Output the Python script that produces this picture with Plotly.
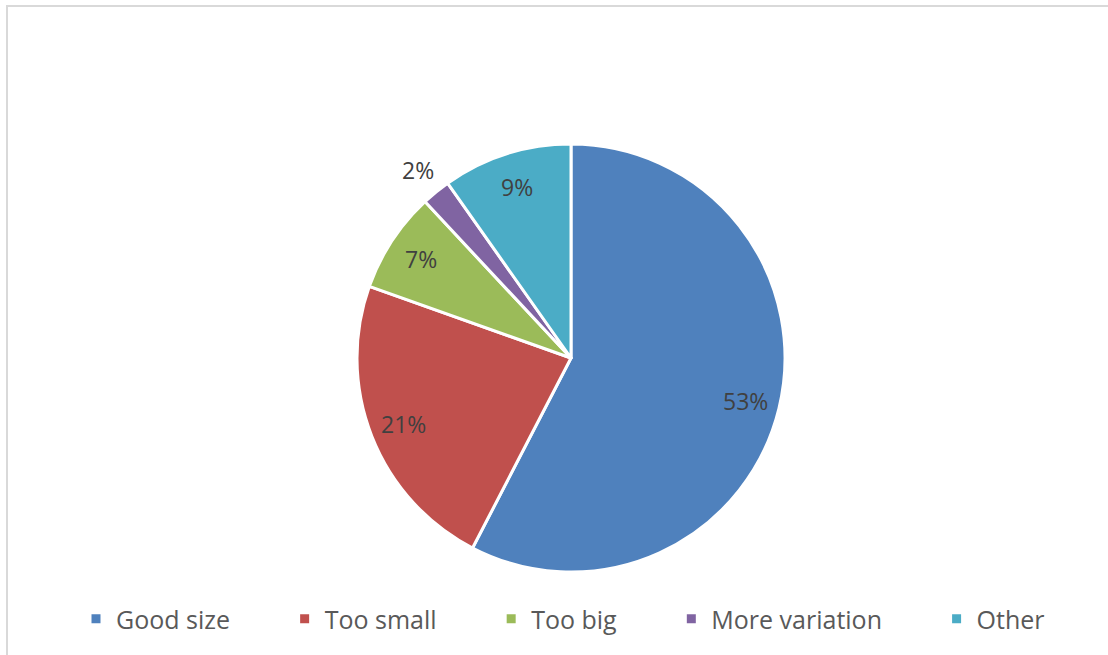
import math
import plotly.graph_objects as go

# ---- data ----
labels = ["Good size", "Too small", "Too big", "More variation", "Other"]
values = [53, 21, 7, 2, 9]
label_pos = ["inside", "inside", "inside", "outside", "inside"]
colors = ["#4F81BD", "#C0504D", "#9BBB59", "#8064A2", "#4BACC6"]

W, H = 1108, 655
FONT = "Open Sans"

# pie geometry (pixels)
cx_px, cy_px, R_px = 571, 358, 214
dom_x = [(cx_px - R_px) / W, (cx_px + R_px) / W]
dom_y = [1 - (cy_px + R_px) / H, 1 - (cy_px - R_px) / H]

# spacing between legend entries (not after the last one)
pad = "\u00a0" * 7 + "\u2009"
legend_names = [l + (pad if i < len(labels) - 1 else "") for i, l in enumerate(labels)]

fig = go.Figure(go.Pie(
    labels=legend_names,
    values=values,
    customdata=labels,
    marker=dict(colors=colors, line=dict(color="white", width=3)),
    sort=False,
    direction="clockwise",
    rotation=0,
    textinfo="none",
    hovertemplate="%{customdata}: %{value}%<extra></extra>",
    domain=dict(x=dom_x, y=dom_y),
))

# value labels placed along each slice's bisector
total = sum(values)
annotations = []
cum = 0
for v, pos in zip(values, label_pos):
    mid = (cum + v / 2) / total * 2 * math.pi
    cum += v
    f = 0.84 if pos == "inside" else 1.13
    x_px = cx_px + f * R_px * math.sin(mid)
    y_px = cy_px - f * R_px * math.cos(mid)
    annotations.append(dict(
        x=x_px / W, y=1 - y_px / H, xref="paper", yref="paper",
        text=f"{v}%", showarrow=False,
        font=dict(family=FONT, size=23, color="#404040"),
        xanchor="center", yanchor="middle",
    ))

fig.update_layout(
    width=W, height=H,
    autosize=False,
    margin=dict(l=0, r=0, t=0, b=0, autoexpand=False),
    paper_bgcolor="white",
    plot_bgcolor="white",
    font=dict(family=FONT),
    annotations=annotations,
    legend=dict(
        orientation="h",
        x=76 / W, xanchor="left",
        y=1 - 619 / H, yanchor="middle",
        font=dict(family=FONT, size=25, color="#595959"),
        bgcolor="rgba(0,0,0,0)",
    ),
    shapes=[dict(
        type="rect", xref="paper", yref="paper",
        x0=7 / W, x1=1.02, y0=-0.02, y1=1 - 6 / H,
        line=dict(color="#D9D9D9", width=2),
        fillcolor="rgba(0,0,0,0)",
        layer="below",
    )],
)

fig.write_html(
    "out.html",
    config={"responsive": False, "displayModeBar": False},
    post_script="document.body.style.margin='0';document.body.style.overflow='hidden';",
)
